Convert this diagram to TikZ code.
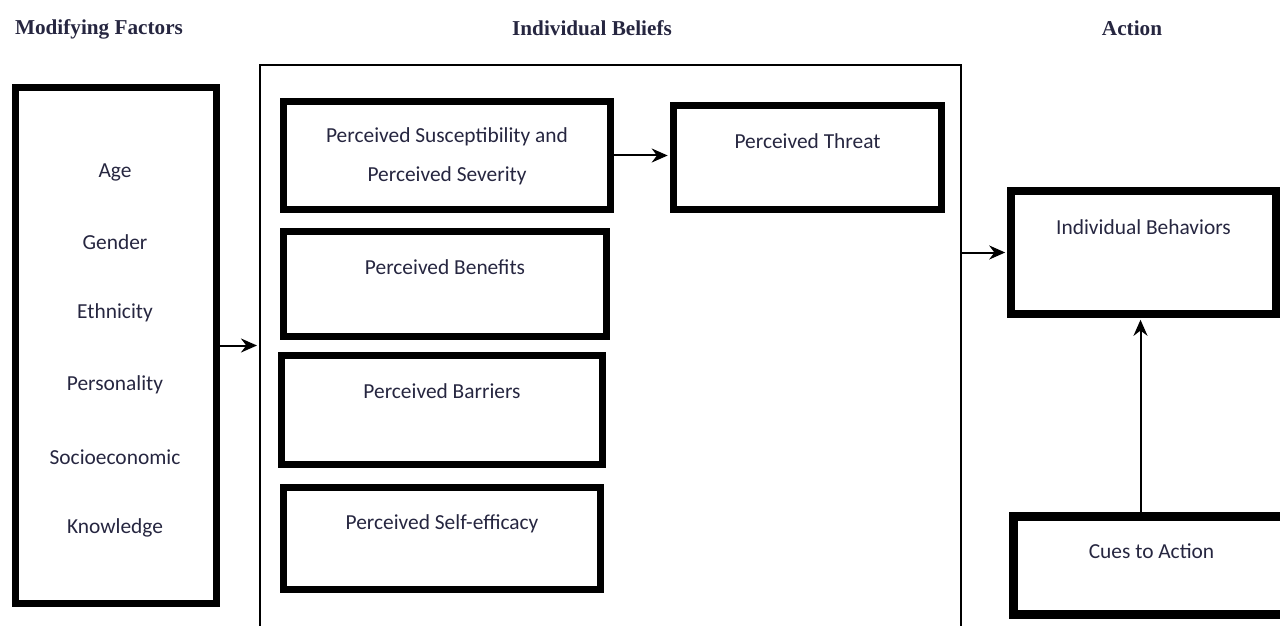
\documentclass[tikz,border=0pt]{standalone}
\usepackage{fontspec}
\setmainfont{Carlito}
\newfontfamily\headfont{Liberation Serif}
\usetikzlibrary{arrows.meta}
\definecolor{inkblue}{RGB}{38,38,64}

\begin{document}
\begin{tikzpicture}[x=0.5pt, y=-0.5pt,
	box/.style={draw, rectangle, line width=3.8pt, inner sep=0pt},
	txt/.style={text=inkblue, font=\fontsize{10.7}{19.5}\selectfont, align=center},
	boxtext/.style={label={[txt, anchor=center, yshift=-19.8pt]north:#1}},
	head/.style={text=inkblue, font=\headfont\bfseries\fontsize{10.6}{13}\selectfont},
	arr/.style={-{Stealth[length=8pt, width=7pt]}, line width=1pt, shorten >=1pt}]

		\clip (0,0) rectangle (1280,626);

		\node[head] (modhead) at (99,29) {Modifying Factors};
		\node[head] (belhead) at (592,28) {Individual Beliefs};
		\node[head] (acthead) at (1132,28) {Action};

		\node[box, minimum width=100.5pt, minimum height=258pt] (factors) at (116,345.5) {};
		\foreach \y/\ytext in {172/Age,242/Gender,313/Ethnicity,385/Personality,457/Socioeconomic,528/Knowledge}
		\node[txt] (item\y) at (115,\y) {\ytext};

		\node[draw, rectangle, line width=1pt, inner sep=0pt, minimum width=350.5pt, minimum height=297.5pt] (beliefs) at (610.5,362.5) {};

		\node[box, label={[txt, anchor=center, yshift=-29.5pt]north:Perceived Susceptibility and\\Perceived Severity}, minimum width=163.5pt, minimum height=54pt] (susc) at (447,155.5) {};
		\node[box, boxtext=Perceived Threat, minimum width=134pt, minimum height=52pt] (threat) at (807.5,157.5) {};
		\node[box, boxtext=Perceived Benefits, minimum width=161.5pt, minimum height=52.5pt] (benefits) at (445,284) {};
		\node[box, boxtext=Perceived Barriers, minimum width=160.5pt, minimum height=54.5pt] (barriers) at (442,410) {};
		\node[box, boxtext=Perceived Self-efficacy, minimum width=158.5pt, minimum height=51pt] (selfeff) at (442,538.5) {};

		\node[box, boxtext=Individual Behaviors, minimum width=132.5pt, minimum height=61.5pt] (behav) at (1143.5,252.5) {};
		\node[box, line width=4.5pt, boxtext=Cues to Action, minimum width=138.5pt, minimum height=49pt] (cues) at (1151.5,565) {};

		\draw[arr] (factors.east) -- (factors.east -| beliefs.west);
		\draw[arr] (susc.east) -- (susc.east -| threat.west);
		\draw[arr] (behav.west -| beliefs.east) -- (behav.west);
		\draw[arr] ([xshift=-1.5pt]cues.north -| behav.south) -- ([xshift=-1.5pt]behav.south);

\end{tikzpicture}
\end{document}
